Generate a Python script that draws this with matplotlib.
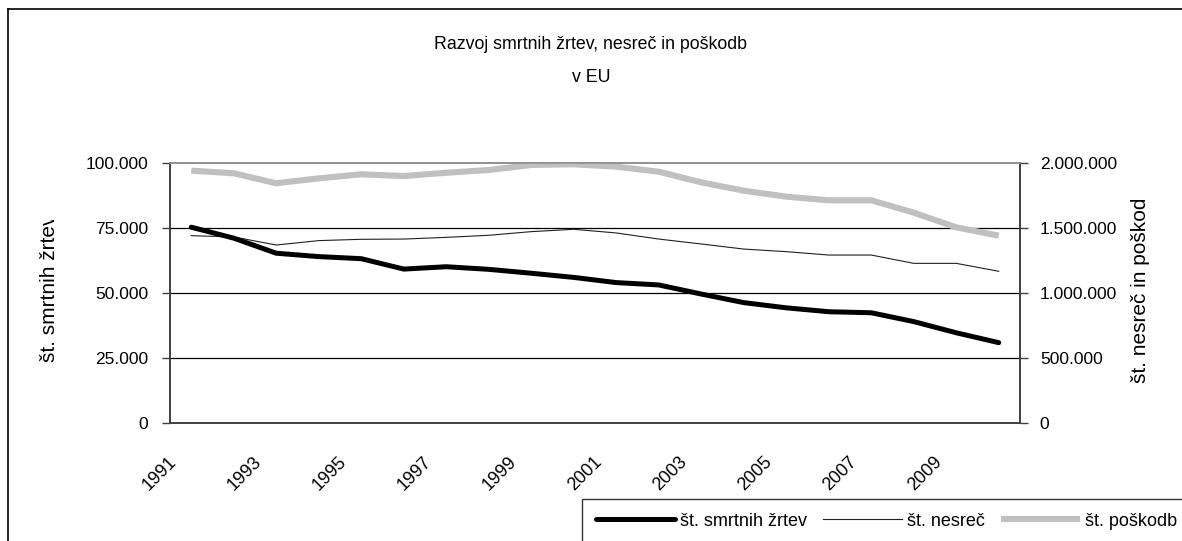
import matplotlib
matplotlib.use("Agg")
import matplotlib.pyplot as plt
import matplotlib.transforms as mtransforms
from matplotlib.ticker import FuncFormatter, FixedLocator
from matplotlib.lines import Line2D
from matplotlib.transforms import Bbox
import numpy as np

plt.rcParams["font.family"] = ["Liberation Sans", "DejaVu Sans"]

years = list(range(1991, 2011))
deaths = [75300, 71100, 65300, 64000, 63200, 59200, 60100, 59100, 57600, 56000,
          54000, 53100, 49600, 46300, 44300, 42800, 42400, 39000, 34700, 30900]
accidents = [1441000, 1431000, 1369000, 1403000, 1413000, 1415000, 1428000, 1444000,
             1472000, 1490000, 1462000, 1415000, 1377000, 1338000, 1318000, 1292000,
             1292000, 1228000, 1228000, 1167000]
injuries = [1941000, 1921000, 1844000, 1882000, 1913000, 1900000, 1925000, 1946000,
            1985000, 1990000, 1972000, 1933000, 1851000, 1787000, 1741000, 1713000,
            1713000, 1618000, 1505000, 1441000]
label_years = years[::2]

title_1 = "Razvoj smrtnih žrtev, nesreč in poškodb"
title_2 = "v EU"
left_label = "št. smrtnih žrtev"
right_label = "št. nesreč in poškodb"
legend_labels = ["št. smrtnih žrtev", "št. nesreč", "št. poškodb"]

W, H = 1182, 541
fig = plt.figure(figsize=(W / 100, H / 100), dpi=100)
fig.patch.set_facecolor("white")


def px(x, y):
    return x / W, 1 - y / H


def dots(v):
    return f"{int(v):,}".replace(",", ".")


left, top = px(170, 163)
right, bottom = px(1020, 423)
ax2 = fig.add_axes([left, bottom, right - left, top - bottom])
ax = ax2.twinx()
# left series on top, grid drawn from the right axis underneath
ax.set_zorder(ax2.get_zorder() + 1)
ax.patch.set_visible(False)
ax.yaxis.tick_left()
ax.yaxis.set_label_position("left")
ax2.yaxis.tick_right()
ax2.yaxis.set_label_position("right")

x = np.arange(len(years))
ax2.plot(x, accidents, color="#202020", lw=0.8, zorder=3)
ax2.plot(x, injuries, color="#c0c0c0", lw=4.4, solid_capstyle="butt", zorder=3)
ax.plot(x, deaths, color="black", lw=3.6, solid_capstyle="round", zorder=4)

ax.set_ylim(0, 100000)
ax2.set_ylim(0, 2000000)
ax.set_xlim(-0.5, len(years) - 0.5)

ax.set_yticks(np.arange(0, 100001, 25000))
ax2.set_yticks(np.arange(0, 2000001, 500000))
ax.yaxis.set_major_formatter(FuncFormatter(lambda v, p: dots(v)))
ax2.yaxis.set_major_formatter(FuncFormatter(lambda v, p: dots(v)))
ax.tick_params(axis="y", length=5.8, width=1, pad=10, labelsize=12.5, color="#404040")
ax2.tick_params(axis="y", length=5.8, width=1, pad=8.5, labelsize=12.5, color="#404040")

ax2.grid(axis="y", color="black", lw=0.9)
ax2.set_axisbelow(True)
ax2.yaxis.get_gridlines()[-1].set_visible(False)

# category boundaries as ticks, year labels centred on categories
ax2.xaxis.set_major_locator(FixedLocator(np.arange(-0.5, len(years), 1.0)))
ax2.xaxis.set_major_formatter(FuncFormatter(lambda v, p: ""))
ax2.tick_params(axis="x", which="major", length=5.8, width=1, color="#404040")
ax2.set_xticks([years.index(y) for y in label_years], minor=True)
ax2.set_xticklabels([str(y) for y in label_years], minor=True)
ax2.tick_params(axis="x", which="minor", length=0, pad=22, labelsize=13)
shift = mtransforms.ScaledTranslation(-11 / 100, 0, fig.dpi_scale_trans)
for lab in ax2.xaxis.get_minorticklabels():
    lab.set_rotation(45)
    lab.set_ha("right")
    lab.set_va("top")
    lab.set_transform(lab.get_transform() + shift)
ax.set_xticks([])

for a in (ax, ax2):
    for s in ("left", "bottom", "right"):
        a.spines[s].set_color("#404040")
        a.spines[s].set_linewidth(1.2)
    a.spines["top"].set_color("#909090")
    a.spines["top"].set_linewidth(1.2)

# axis titles, clipped like the original
lt = fig.text(50 / W, 1 - 362 / H, left_label, rotation=90, ha="center", va="bottom", fontsize=15)
lt.set_clip_box(Bbox([[0, 0], [W, H - 220]]))
lt.set_clip_on(True)
rt = fig.text(1141 / W, 1 - 383 / H, right_label, rotation=90, ha="center", va="bottom", fontsize=15)
rt.set_clip_box(Bbox([[0, 0], [W, H - 200]]))
rt.set_clip_on(True)

fig.text(591 / W, 1 - 45 / H, title_1, ha="center", va="center", fontsize=12.8)
fig.text(591 / W, 1 - 78 / H, title_2, ha="center", va="center", fontsize=12.8)

handles = [
    Line2D([], [], color="black", lw=3.6, solid_capstyle="round"),
    Line2D([], [], color="#202020", lw=0.8),
    Line2D([], [], color="#c0c0c0", lw=4.4, solid_capstyle="butt"),
]
leg = fig.legend(handles, legend_labels, loc="upper left", bbox_to_anchor=px(582, 499),
                 ncol=3, fontsize=13, frameon=True, fancybox=False, handlelength=4.4,
                 handletextpad=0.25, columnspacing=0.9, borderpad=0.75, borderaxespad=0)
leg.get_frame().set_edgecolor("black")
leg.get_frame().set_linewidth(1.0)

# outer chart border: only left and top edges fall inside the picture
x0, y0 = px(8, 9)
fig.add_artist(Line2D([x0, x0], [-0.1, y0], transform=fig.transFigure, color="black", lw=1.2))
fig.add_artist(Line2D([x0, 1.1], [y0, y0], transform=fig.transFigure, color="black", lw=1.2))

fig.savefig("out.png", dpi=100)
